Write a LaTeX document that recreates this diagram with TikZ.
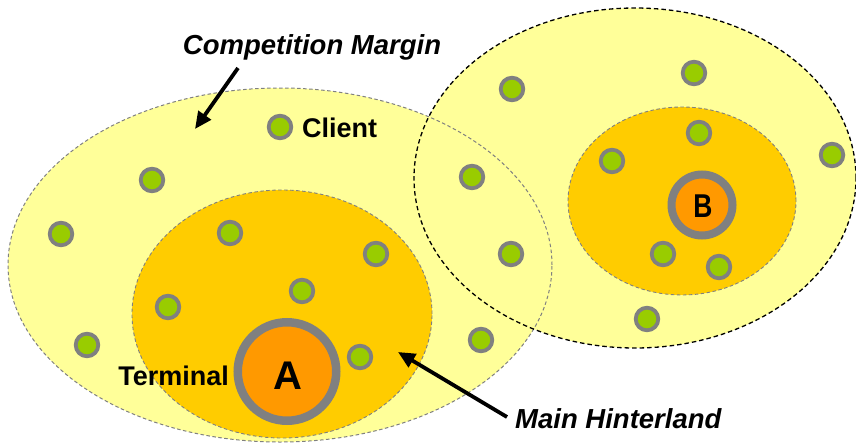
\documentclass[tikz,border=0pt]{standalone}
\usepackage{fontspec}
\setmainfont{Liberation Sans}
\usetikzlibrary{shapes.geometric,arrows.meta}
\definecolor{paleY}{HTML}{FFFF99}
\definecolor{hinter}{HTML}{FFCC00}
\definecolor{termO}{HTML}{FF9900}
\definecolor{dotG}{HTML}{99CC00}
\definecolor{ringG}{HTML}{808080}
\tikzset{
  margin/.style={ellipse, inner sep=0pt, fill=paleY},
  hinterland/.style={ellipse, inner sep=0pt, fill=hinter, draw=ringG, line width=0.9pt, dash pattern=on 3.5pt off 2.5pt},
  client/.style={circle, inner sep=0pt, minimum size=22.6pt, fill=dotG, draw=ringG, line width=3.8pt},
  terminal/.style={circle, inner sep=0pt, fill=termO, draw=ringG},
  lbl/.style={inner sep=0pt, font=\fontsize{27}{27}\selectfont\bfseries},
  ilbl/.style={inner sep=0pt, font=\fontsize{27.5}{27.5}\selectfont\bfseries\itshape},
  pointer/.style={line width=3.8pt, -{Triangle[length=17pt,width=15pt]}},
}
\begin{document}
\begin{tikzpicture}[x=1pt,y=-1pt]
\useasboundingbox[fill=white] (0,0) rectangle (856,444);
% outer margins (fills)
\node[margin, minimum width=544pt, minimum height=354pt] (mA) at (280,265) {};
\node[margin, minimum width=442pt, minimum height=340pt] (mB) at (635,178) {};
% outer borders
\draw[ringG, line width=1pt, dash pattern=on 3.5pt off 2.5pt] (mA.center) ellipse [x radius=272pt, y radius=177pt];
\draw[black, line width=1.3pt, dash pattern=on 4.5pt off 3pt] (mB.center) ellipse [x radius=221pt, y radius=170pt];
% hinterlands
\node[hinterland, minimum width=300pt, minimum height=248pt] (hA) at (282,314) {};
\node[hinterland, minimum width=228pt, minimum height=188pt] (hB) at (682,201) {};
% clients
\node[client] (c1) at (280,127) {};
\node[client] (c2) at (152,180) {};
\node[client] (c3) at (61,234) {};
\node[client] (c4) at (230,233) {};
\node[client] (c5) at (376,254) {};
\node[client] (c6) at (302,291) {};
\node[client] (c7) at (168,307) {};
\node[client] (c8) at (87,345) {};
\node[client] (c9) at (360,357) {};
\node[client] (c10) at (472,177) {};
\node[client] (c11) at (511,254) {};
\node[client] (c12) at (481,340) {};
\node[client] (c13) at (512,89) {};
\node[client] (c14) at (694,73) {};
\node[client] (c15) at (699,133) {};
\node[client] (c16) at (612,161) {};
\node[client] (c17) at (832,155) {};
\node[client] (c18) at (663,254) {};
\node[client] (c19) at (719,267) {};
\node[client] (c20) at (647,319) {};
% terminals
\node[terminal, minimum size=98.5pt, line width=8.5pt] (tA) at (287,371.5) {};
\node[terminal, minimum size=61pt, line width=8pt] (tB) at (702,205) {};
\node[inner sep=0pt, anchor=base, font=\fontsize{40}{40}\selectfont\bfseries] (tAl) at (287.5,389) {A};
\node[inner sep=0pt, anchor=base, font=\fontsize{33}{33}\selectfont\bfseries, xscale=0.8] (tBl) at (703,217) {B};
% labels
\node[lbl, anchor=base west] (client) at (302,137) {Client};
\node[lbl, anchor=base east] (term) at (229,385) {Terminal};
\node[ilbl, anchor=base] (cm) at (312,55) {Competition Margin};
\node[ilbl, anchor=base west] (mh) at (515,428) {Main Hinterland};
% pointers
\coordinate (cmTail) at (238,68);
\coordinate (cmTip) at (195,129);
\coordinate (mhTail) at (507,417);
\coordinate (mhTip) at (398,352);
\draw[pointer] (cmTail) -- (cmTip);
\draw[pointer] (mhTail) -- (mhTip);
\end{tikzpicture}
\end{document}
